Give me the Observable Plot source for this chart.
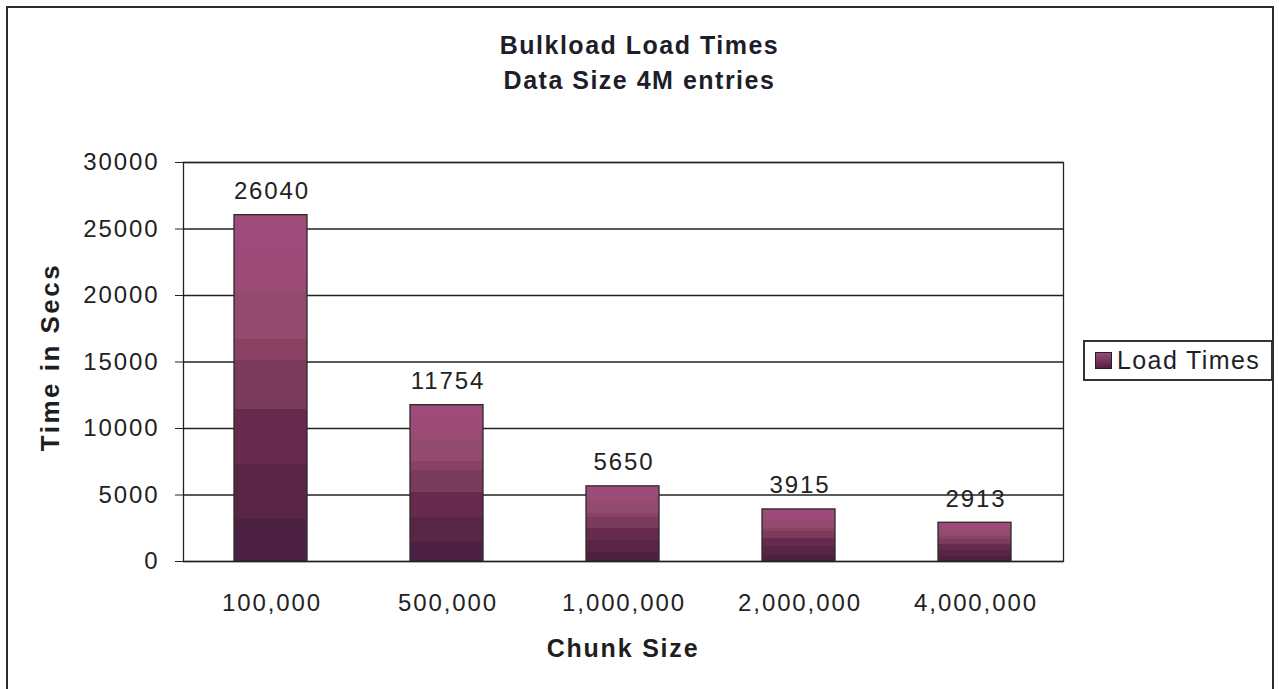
<!DOCTYPE html>
<html>
<head>
<meta charset="utf-8">
<script src="https://cdn.jsdelivr.net/npm/d3@7"></script>
<script src="https://cdn.jsdelivr.net/npm/@observablehq/plot@0.6"></script>
<style>
  html, body { margin: 0; padding: 0; background: #fff; }
  #wrap { position: relative; width: 1279px; height: 689px; overflow: hidden; font-family: "Liberation Sans", Arial, sans-serif; }
  #border { position: absolute; left: 6px; top: 6px; width: 1268px; height: 700px; border: 2px solid #2b2b2b; box-sizing: border-box; }
  #chart { position: absolute; left: 0; top: 0; }
  .title { position: absolute; left: 0; width: 1279px; text-align: center; font-weight: bold; font-size: 25px; color: #1e1e2a; letter-spacing: 1.5px; }
  #ylabel { position: absolute; left: 50px; top: 357px; transform: translate(-50%, -50%) rotate(-90deg); font-weight: bold; font-size: 26px; color: #1e1e1e; white-space: nowrap; letter-spacing: 2.5px; }
  #xlabel { position: absolute; left: 623px; top: 648px; transform: translate(-50%, -50%); font-weight: bold; font-size: 25px; color: #1e1e1e; white-space: nowrap; letter-spacing: 1.8px; }
  #legend { position: absolute; left: 1083px; top: 340px; width: 190px; height: 41px; border: 2px solid #333; box-sizing: border-box; display: flex; align-items: center; padding-left: 10px; font-size: 25px; color: #1e1e2a; letter-spacing: 1.4px; }
  #legend .sw { width: 15px; height: 15px; border: 1px solid #222; background: linear-gradient(to top, #4f2342, #9a4a78); margin-right: 5px; }
</style>
</head>
<body>
<div id="wrap">
  <div id="border"></div>
  <div id="chart"></div>
  <div class="title" style="top:31px">Bulkload Load Times</div>
  <div class="title" style="top:66px">Data Size 4M entries</div>
  <div id="ylabel">Time in Secs</div>
  <div id="xlabel">Chunk Size</div>
  <div id="legend"><div class="sw"></div><span>Load Times</span></div>
</div>
<script>
const categories = ["100,000", "500,000", "1,000,000", "2,000,000", "4,000,000"];
const loadTimes = [26040, 11754, 5650, 3915, 2913];
const yTicks = [0, 5000, 10000, 15000, 20000, 25000, 30000];

const data = categories.map((c, i) => ({ chunk: c, time: loadTimes[i] }));

const chart = Plot.plot({
  width: 1279,
  height: 689,
  marginTop: 162,
  marginBottom: 128,
  marginLeft: 183,
  marginRight: 216,
  style: { fontFamily: "'Liberation Sans', Arial, sans-serif", fontSize: "24px", color: "#222", background: "transparent", overflow: "visible", letterSpacing: "1.9px" },
  x: { domain: categories, paddingInner: 0.585, paddingOuter: 0.2925, label: null },
  y: { domain: [0, 30000], label: null },
  marks: [
    Plot.ruleY(yTicks, { stroke: "#222", strokeWidth: 1.3 }),
    Plot.barY(data, { x: "chunk", y: "time", fill: "url(#barGrad)", stroke: "#2a2a2a", strokeWidth: 1.3 }),
    Plot.text(data, { x: "chunk", y: "time", text: d => String(d.time), lineAnchor: "bottom", dy: -16, dx: 1, fill: "#222", fontSize: 24 }),
    Plot.axisY({ ticks: yTicks, tickFormat: d => String(d), tickSize: 8, tickPadding: 16, stroke: "#222", label: null }),
    Plot.axisX({ tickSize: 0, tickPadding: 32, dx: 1, label: null }),
    Plot.frame({ stroke: "#222", strokeWidth: 1.3 })
  ]
});

const svg = d3.select(chart);
const defs = svg.insert("defs", ":first-child");
const g = defs.append("linearGradient").attr("id", "barGrad").attr("x1", 0).attr("y1", 1).attr("x2", 0).attr("y2", 0);
const stops = [
  [0, "#4c2040"], [0.12, "#4c2040"], [0.12, "#582545"], [0.28, "#582545"], [0.28, "#652a4e"],
  [0.44, "#652a4e"], [0.44, "#7a3b5c"], [0.58, "#7a3b5c"], [0.58, "#8a4262"], [0.64, "#8a4262"],
  [0.64, "#924a6e"], [0.78, "#924a6e"], [0.78, "#9b4a76"], [1, "#9e4b79"]
];
stops.forEach(([o, c]) => g.append("stop").attr("offset", o).attr("stop-color", c));

document.getElementById("chart").appendChild(chart);
</script>
</body>
</html>
